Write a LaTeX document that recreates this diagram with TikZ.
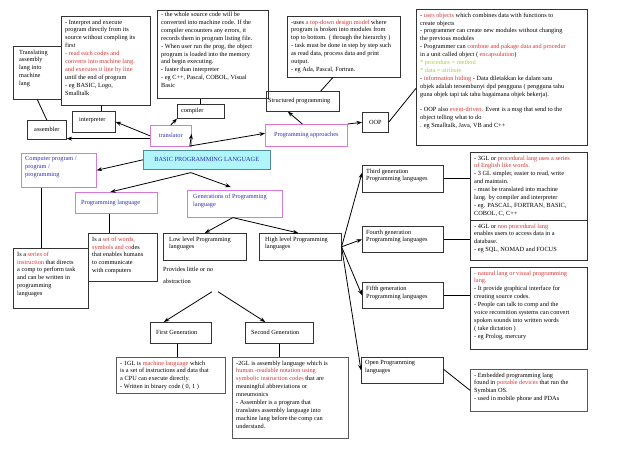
\documentclass[tikz,border=0pt]{standalone}
\usepackage{fontspec}
\setmainfont{Liberation Serif}
\usetikzlibrary{arrows.meta}
\definecolor{txtred}{RGB}{215,50,50}
\definecolor{txtgreen}{RGB}{165,205,60}
\definecolor{txtblue}{RGB}{45,45,180}
\definecolor{pinkline}{RGB}{215,120,220}
\definecolor{cyanfill}{RGB}{175,245,250}
\definecolor{cyanline}{RGB}{80,140,150}
\begin{document}
\begin{tikzpicture}[x=1pt,y=-1pt,
  box/.style={draw=black!80, line width=0.6pt, anchor=north west, inner sep=1pt,
    font=\fontsize{6.3}{7.9}\selectfont},
  pinkbox/.style={box, draw=pinkline, text=txtblue},
  lbl/.style={anchor=north west, align=left, inner xsep=4pt, inner ysep=3.5pt,
    font=\fontsize{6.3}{7.9}\selectfont},
  link/.style={line width=0.8pt},
  arr/.style={link, -{Stealth[length=5.5pt,width=4pt]}}]
\useasboundingbox (0,0) rectangle (638,451);

% translator branch
\node[box, minimum width=48, minimum height=53,
  label={[lbl, inner xsep=6pt]north west:{Translating\\assembly\\lang into\\machine\\lang}}]
  (transasm) at (13,46) {};
\node[box, minimum width=89, minimum height=89,
  label={[lbl]north west:{- Interpret and execute\\program directly from its\\source without compling its\\first\\
    \textcolor{txtred}{- read each codes and}\\\textcolor{txtred}{converts into machine lang.}\\
    \textcolor{txtred}{and executes it line by line}\\until the end of program\\- eg BASIC, Logo,\\Smalltalk}}]
  (interpdesc) at (61,16) {};
\node[box, minimum width=111, minimum height=88,
  label={[lbl, inner ysep=2pt]north west:{- the whole source code will be\\converted into machine code. If the\\
    compiler encounters any errors, it\\records them in program listing file.\\
    - When user run the prog, the object\\program is loaded into the memory\\and begin executing.\\
    - faster than interpreter\\- eg C++, Pascal, COBOL, Visual\\Basic}}]
  (compdesc) at (157,10) {};
\node[box, minimum width=39, minimum height=19] (asm) at (27,120) {assembler};
\node[box, minimum width=43, minimum height=21,
  label={[lbl, anchor=west, inner xsep=7pt, yshift=2pt]west:{interpreter}}] (interp) at (72,111) {};
\node[box, minimum width=47, minimum height=14,
  label={[lbl, anchor=west]west:{compiler}}] (comp) at (177,104) {};
\node[pinkbox, minimum width=41, minimum height=21] (trans) at (150,125) {translator};

% programming approaches branch
\node[box, minimum width=113, minimum height=61,
  label={[lbl]north west:{-uses \textcolor{txtred}{a top-down design model} where\\program is broken into modules from\\
    top to bottom. ( through the hierarchy )\\- task must be done in step by step such\\
    as read data, process data and print\\output.\\- eg Ada, Pascal, Fortran.}}]
  (structdesc) at (287,16) {};
\node[box, minimum width=73, minimum height=20,
  label={[lbl, anchor=west, inner xsep=2pt]west:{Structured programming}}] (struct) at (266,91) {};
\node[pinkbox, minimum width=82, minimum height=22] (approach) at (265,124) {Programming approaches};
\node[box, minimum width=26, minimum height=20] (oop) at (362,112) {OOP};
\node[box, minimum width=171, minimum height=136,
  label={[lbl]north west:{- \textcolor{txtred}{uses objects} which combines data with functions to\\create objects\\
    - programmer can create new modules without changing\\the previous modules\\
    - Programmer can \textcolor{txtred}{combine and pakage data and procedur}\\
    in a unit called object ( \textcolor{txtred}{encapsulation})\\
    \textcolor{txtgreen}{* procedure = method}\\\textcolor{txtgreen}{* data = atribute}\\
    - \textcolor{txtred}{information hiding} - Data diletakkan ke dalam satu\\
    objek adalah tersembunyi dpd pengguna ( pengguna tahu\\
    guna objek tapi tak tahu bagaimana objek bekerja).\\[7.9pt]
    - OOP also \textcolor{txtred}{event-driven.} Event is a msg that send to the\\
    object telling what to do\\. eg Smalltalk, Java, VB and C++}}]
  (oopdesc) at (416,9) {};

% centre
\node[box, draw=cyanline, fill=cyanfill, text=txtblue, minimum width=127, minimum height=19]
  (basic) at (143,150) {BASIC PROGRAMMING LANGUAGE};
\node[pinkbox, minimum width=75, minimum height=34,
  label={[lbl, text=txtblue]north west:{Computer program /\\program /\\programming}}] (cprog) at (21,153) {};
\node[pinkbox, minimum width=82, minimum height=21,
  label={[lbl, anchor=west, inner xsep=6pt, text=txtblue]west:{Programming language}}] (planguage) at (75,192) {};
\node[pinkbox, minimum width=95, minimum height=27,
  label={[lbl, inner xsep=6pt, text=txtblue]north west:{Generations of Programming\\language}}] (gen) at (187,190) {};
\node[box, minimum width=75, minimum height=60,
  label={[lbl]north west:{Is a \textcolor{txtred}{series of}\\\textcolor{txtred}{instruction} that directs\\
    a comp to perform task\\and can be written in\\programming\\languages}}] (series) at (13,248) {};
\node[box, minimum width=69, minimum height=48,
  label={[lbl]north west:{Is a \textcolor{txtred}{set of words,}\\\textcolor{txtred}{symbols and co}des\\
    that enables humans\\to communicate\\with computers}}] (setwords) at (88,233) {};

% generations
\node[box, minimum width=83, minimum height=27,
  label={[lbl, inner xsep=6pt]north west:{Low level Programming\\languages}}] (low) at (163,233) {};
\node[box, minimum width=82, minimum height=27,
  label={[lbl, inner xsep=6pt]north west:{High level Programming\\languages}}] (high) at (259,233) {};
\node[lbl, inner xsep=0pt, inner ysep=0pt] (abstr) at (163,267) {Provides little or no\\[4pt]abstraction};
\node[box, minimum width=61, minimum height=21,
  label={[lbl, anchor=west, inner xsep=6pt]west:{First Generation}}] (first) at (150,322) {};
\node[box, minimum width=68, minimum height=21,
  label={[lbl, anchor=west, inner xsep=6pt]west:{Second Generation}}] (second) at (245,322) {};
\node[box, draw=black!65, minimum width=109, minimum height=36,
  label={[lbl]north west:{- 1GL is \textcolor{txtred}{machine language} which\\is a set of instructions and data that\\
    a CPU can execute directly.\\- Written in binary code ( 0, 1 )}}] (gl1) at (116,357) {};
\node[box, draw=black!65, minimum width=116, minimum height=81,
  label={[lbl]north west:{-2GL is assembly language which is\\\textcolor{txtred}{human -readable notation using}\\
    \textcolor{txtred}{symbolic instruction codes} that are\\meaningful abbreviations or\\mneumonics\\
    - Assembler is a program that\\translates assembly language into\\machine lang before the comp can\\understand.}}]
  (gl2) at (232,357) {};

% high level languages
\node[box, minimum width=81, minimum height=27,
  label={[lbl]north west:{Third generation\\Programming languages}}] (third) at (362,165) {};
\node[box, minimum width=81, minimum height=26,
  label={[lbl]north west:{Fourth generation\\Programming languages}}] (fourth) at (362,226) {};
\node[box, minimum width=81, minimum height=26,
  label={[lbl]north west:{Fifth generation\\Programming languages}}] (fifth) at (362,282) {};
\node[box, minimum width=82, minimum height=26,
  label={[lbl]north west:{Open Programming\\languages}}] (open) at (361,357) {};
\node[box, minimum width=117, minimum height=68,
  label={[lbl]north west:{- 3GL or \textcolor{txtred}{procedural lang uses a series}\\\textcolor{txtred}{of English like words.}\\
    - 3 GL simpler, easier to read, write\\and maintain.\\- must be translated into machine\\
    lang. by compiler and interpreter\\- eg. PASCAL, FORTRAN, BASIC,\\COBOL, C, C++}}] (gl3) at (470,152) {};
\node[box, minimum width=117, minimum height=40,
  label={[lbl]north west:{- 4GL or \textcolor{txtred}{non procedural lang}\\enables users to access data in a\\
    database.\\- eg SQL, NOMAD and FOCUS}}] (gl4) at (470,220) {};
\node[box, minimum width=117, minimum height=82,
  label={[lbl]north west:{\textcolor{txtred}{- natural lang or visual programming}\\\textcolor{txtred}{lang.}\\
    - It provide graphical interface for\\creating source codes.\\- People can talk to comp and the\\
    voice recornition systems can convert\\spoken sounds into written words\\( take dictation )\\
    - eg Prolog, mercury}}] (gl5) at (470,267) {};
\node[box, draw=black!65, minimum width=117, minimum height=42,
  label={[lbl]north west:{- Embedded programming lang\\found in \textcolor{txtred}{portable devices} that run the\\
    Symbian OS.\\- used in mobile phone and PDAs}}] (embed) at (470,369) {};

% connectors
\draw[link] (transasm.south) -- (asm.north);
\draw[link] ([xshift=8pt]interp.north) -- ([xshift=8pt]interp.north |- interpdesc.south);
\draw[link] (comp.north) -- (comp.north |- compdesc.south);
\draw[arr] ([yshift=8pt]trans.south west) -- ([yshift=1pt]asm.south east);
\draw[arr] (trans.west) -- (interp.east);
\draw[arr] (trans.north) -- (comp.south west);
\coordinate (fork) at ([xshift=-17pt,yshift=4pt]basic.north);
\draw[arr] (fork) -- ([yshift=2pt]trans.east);
\draw[arr] (fork) -- ([yshift=2pt]approach.west);
\draw[arr] ([xshift=-4pt]approach.north) -- ([xshift=-15pt]struct.south);
\draw[link] ([xshift=-11pt]structdesc.south) -- ([xshift=18pt]struct.north);
\draw[arr] (approach.north east) -- (oop.west);
\draw[link] (oop.east) -- ([yshift=-11pt]oopdesc.west);
\draw[arr] (basic.west) -- (cprog.east);
\coordinate (fork2) at ([xshift=-16pt,yshift=-3pt]basic.south);
\draw[arr] (fork2) -- ([xshift=-6pt]planguage.north);
\draw[arr] (fork2) -- ([xshift=-4pt,yshift=3pt]gen.north);
\draw[link] ([xshift=-17.5pt]cprog.south) -- ([xshift=-17.5pt]cprog.south |- series.north);
\draw[link] ([xshift=-7pt]planguage.south) -- ([xshift=-7pt]planguage.south |- setwords.north);
\draw[arr] ([xshift=-2pt]gen.south) -- (low.north);
\draw[arr] ([xshift=-2pt]gen.south) -- ([xshift=-2pt]high.north);
\coordinate (splitA) at ([xshift=49pt,yshift=-8pt]abstr.south west);
\coordinate (splitB) at ([xshift=55pt,yshift=-8pt]abstr.south west);
\draw[arr] (splitA) -- ([xshift=-17pt]first.north);
\draw[arr] (splitB) -- ([xshift=-14pt]second.north);
\draw[link] ([xshift=-3.5pt]first.south) -- ([xshift=-3.5pt]first.south |- gl1.north);
\draw[link] (second.south) -- (second.south |- gl2.north);
\draw[arr] (high.east) -- ([yshift=6pt]third.west);
\draw[arr] (high.east) -- (fourth.west);
\draw[arr] (high.east) -- (fifth.west);
\draw[arr] (high.east) -- (open.west);
\draw[link] (third.east) -- (third.east -| gl3.west);
\draw[link] (fourth.east) -- (fourth.east -| gl4.west);
\draw[link] (fifth.east) -- (fifth.east -| gl5.west);
\draw[link] ([yshift=1pt]open.east) -- (embed.west);
\end{tikzpicture}
\end{document}
